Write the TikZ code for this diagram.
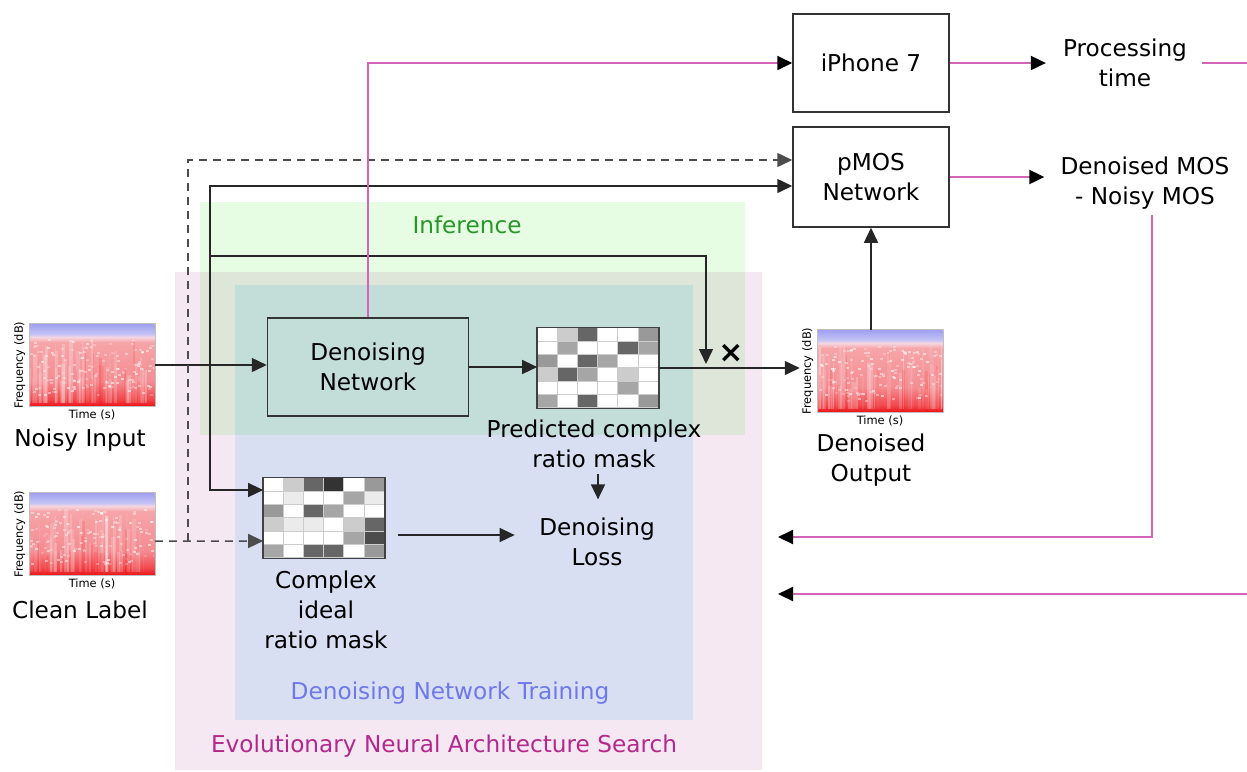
\documentclass[tikz,border=0pt]{standalone}
\usepackage{fontspec}
\setmainfont{DejaVu Sans}
\usetikzlibrary{arrows.meta, calc, positioning}

\definecolor{pinkbg}{RGB}{246,232,242}
\definecolor{bluebg}{RGB}{217,223,243}
\definecolor{greenbg}{RGB}{230,253,228}
\definecolor{infgreen}{RGB}{40,150,40}
\definecolor{trainblue}{RGB}{110,120,235}
\definecolor{nasmag}{RGB}{180,40,140}
\definecolor{linemag}{RGB}{212,100,185}
\definecolor{specr}{RGB}{235,20,25}
\definecolor{specr2}{RGB}{240,70,75}
\definecolor{specp}{RGB}{244,140,145}
\definecolor{specp2}{RGB}{246,165,168}
\definecolor{specw}{RGB}{245,215,225}
\definecolor{specb}{RGB}{195,195,245}
\definecolor{specb2}{RGB}{160,160,240}

\pgfdeclareverticalshading{spec}{100bp}{color(0bp)=(specr); color(25bp)=(specr); color(29bp)=(specr2); color(40bp)=(specp); color(64bp)=(specp2); color(67bp)=(specw); color(69bp)=(specb); color(75bp)=(specb2); color(100bp)=(specb2)}

\tikzset{
  box/.style={draw=black!80, line width=0.3mm},
  arr/.style={draw=black!85, line width=0.3mm, -{Triangle[length=3mm,width=2.8mm]}},
  dasharr/.style={arr, draw=black!70, dash pattern=on 1.6mm off 1.2mm},
  magline/.style={draw=linemag, line width=0.4mm},
  magarr/.style={magline, -{Triangle[length=3mm,width=2.8mm,color=black]}},
  smalltext/.style={font=\fontsize{6.5}{7}\selectfont, inner sep=2pt},
  specbox/.style={shade, shading=spec, minimum width=25mm, minimum height=16.4mm, inner sep=0},
  maskbox/.style={minimum width=24.2mm, minimum height=16mm, inner sep=0}
}

% spectrogram: name, position, seed
\newcommand{\spectrogram}[3]{%
  \node[specbox] (#1) at (#2) {};
  \begin{scope}[shift={(#1.south west)}]
    \clip (0,0) rectangle (125,-82);
    \pgfmathsetseed{#3}
    \foreach \k in {1,...,50}{
      \pgfmathsetmacro{\sx}{125*rnd}
      \pgfmathsetmacro{\sw}{1+3*rnd}
      \pgfmathsetmacro{\sh}{20+45*rnd}
      \pgfmathsetmacro{\so}{0.05+0.2*rnd}
      \fill[white, opacity=\so] (\sx,-3) rectangle ++(\sw,-\sh);
    }
    \foreach \k in {1,...,140}{
      \pgfmathsetmacro{\sx}{125*rnd}
      \pgfmathsetmacro{\sy}{10+55*rnd}
      \pgfmathsetmacro{\so}{0.2+0.4*rnd}
      \fill[white, opacity=\so] (\sx,-\sy) rectangle ++(3,-2);
    }
    \foreach \k in {1,...,12}{
      \pgfmathsetmacro{\sx}{125*rnd}
      \pgfmathsetmacro{\sw}{1+2*rnd}
      \pgfmathsetmacro{\sh}{20+45*rnd}
      \fill[red, opacity=0.12] (\sx,0) rectangle ++(\sw,-\sh);
    }
  \end{scope}
  \draw[gray!50] (#1.south west) rectangle (#1.north east);
  \node[smalltext, rotate=90, anchor=south] (#1-f) at (#1.west) {Frequency (dB)};
  \node[smalltext, anchor=north] (#1-t) at (#1.south) {Time (s)};
}

% ratio mask: name, position, rows of grey levels
\newcommand{\ratiomask}[3]{%
  \node[maskbox] (#1) at (#2) {};
  \begin{scope}[shift={(#1.north west)}]
    \foreach \row [count=\ri] in {#3}{
      \foreach \lvl [count=\ci] in \row{
        \filldraw[fill=black!\lvl, draw=gray!40, line width=0.4pt]
          ({(\ci-1)*121/6},{(\ri-1)*80/6}) rectangle ++({121/6},{80/6});
      }
    }
  \end{scope}
  \draw[black!75, line width=0.3mm] (#1.north west) rectangle (#1.south east);
}

\begin{document}
\begin{tikzpicture}[x=0.2mm, y=-0.2mm, font=\fontsize{13.2}{17}\selectfont]

  \useasboundingbox (0,0) rectangle (1247,771);

  % Background regions
  \fill[pinkbg] (175,272) rectangle (762,770);
  \fill[bluebg] (235,285) rectangle (693,720);
  \begin{scope}[blend mode=multiply]
    \fill[greenbg] (200,202) rectangle (745,435);
  \end{scope}
  \node[text=infgreen] (inflbl) at (467,225) {Inference};
  \node[text=trainblue] (trainlbl) at (450,693) {Denoising Network Training};
  \node[text=nasmag] (naslbl) at (444,746) {Evolutionary Neural Architecture Search};

  % Spectrograms
  \spectrogram{noisy}{92,365}{7}
  \spectrogram{clean}{92,534}{11}
  \spectrogram{denoised}{880,371}{13}
  \node (noisylbl) at (80,440) {Noisy Input};
  \node (cleanlbl) at (80,610) {Clean Label};
  \node[align=center] (outlbl) at (871,460) {Denoised\\Output};

  % Blocks
  \node[box, minimum width=40.2mm, minimum height=19.6mm, align=center] (dnet) at (368,367) {Denoising\\Network};
  \node[box, minimum width=31.2mm, minimum height=19.6mm] (iphone) at (871,63) {iPhone 7};
  \node[box, minimum width=31.2mm, minimum height=20mm, align=center] (pmos) at (871,177) {pMOS\\Network};
  \node[align=center] (ptime) at (1125,63) {Processing\\time};
  \node[align=center] (mos) at (1145,183) {Denoised MOS\\- Noisy MOS};

  % Masks
  \ratiomask{predmask}{598,368}{{0,20,60,0,0,40},{0,35,0,0,60,35},{40,0,60,35,0,0},{20,60,35,0,20,0},{0,0,0,0,35,0},{35,0,60,0,0,40}}
  \ratiomask{idealmask}{324,518}{{0,20,60,80,0,40},{0,8,0,0,35,8},{40,0,60,35,0,0},{20,8,8,0,20,60},{0,0,0,0,35,70},{35,0,60,60,0,40}}
  \node[align=center] (predlbl) at (594,444) {Predicted complex\\ratio mask};
  \node[align=center] (ideallbl) at (326,610) {Complex\\ideal\\ratio mask};
  \node[align=center, minimum width=32.8mm] (loss) at (597,542) {Denoising\\Loss};
  \node[font=\bfseries\fontsize{17}{17}\selectfont, inner sep=0] (mult) at (731,353) {×};

  % Junctions
  \coordinate (jnoisy) at (210,366);
  \coordinate (jclean) at (188,541);
  \coordinate (jmult) at (706,256);
  \coordinate (mix) at (706,364);
  \coordinate (lossin) at ([yshift=1.4mm]loss.west);
  \coordinate (fb1) at (778,537);
  \coordinate (fb2) at (778,594);
  \coordinate (edge1) at (1247,63);
  \coordinate (edge2) at (1247,594);

  % Signal path
  \draw[arr] (noisy.east) -- (noisy.east -| dnet.west);
  \draw[arr] (jnoisy) |- ([yshift=-1.8mm]pmos.west);
  \draw[arr] (jnoisy) |- (jmult) -- (mix);
  \draw[arr] (jnoisy) |- ([yshift=5.6mm]idealmask.west);
  \draw[dasharr] (jclean -| clean.east) -- ([yshift=-4.6mm]idealmask.west);
  \draw[dasharr] (jclean) |- ([yshift=3.4mm]pmos.west);
  \draw[arr] (dnet.east) -- (dnet.east -| predmask.west);
  \draw[arr, shorten >=1.6mm] (predmask.east) -- (predmask.east -| denoised-f.west);
  \draw[arr] (pmos.south |- denoised.north) -- (pmos.south);
  \draw[arr, shorten >=2.5mm] (predmask.south |- predlbl.south) -- (predmask.south |- loss.north);
  \draw[arr, shorten <=2.6mm] (idealmask.east |- lossin) -- (lossin);

  % Search feedback
  \draw[magarr] (dnet.north) |- (iphone.west);
  \draw[magarr, shorten >=2.2mm] (iphone.east) -- (iphone.east -| ptime.west);
  \draw[magarr, shorten >=2mm] (pmos.east) -- (pmos.east -| mos.west);
  \draw[magline, shorten <=1.7mm] (ptime.east) -- (edge1);
  \draw[magarr] ([xshift=1.4mm]mos.south) |- (fb1);
  \draw[magarr] (edge2) -- (fb2);

\end{tikzpicture}
\end{document}
